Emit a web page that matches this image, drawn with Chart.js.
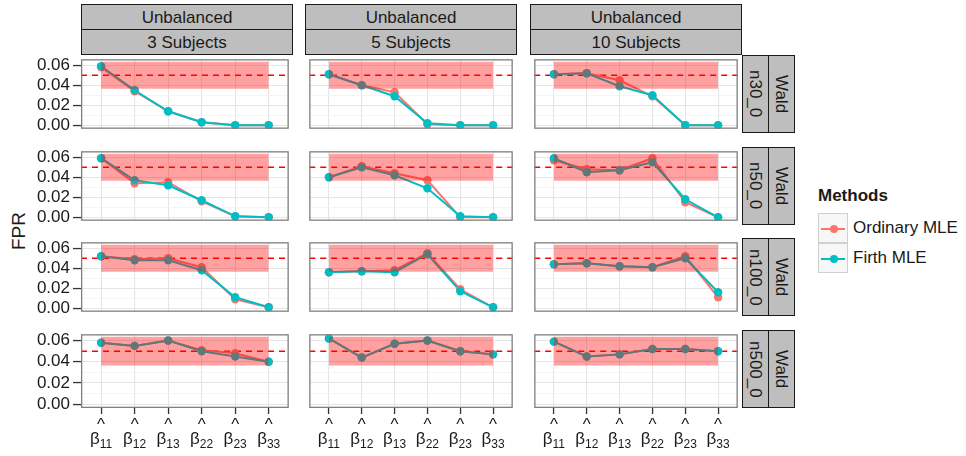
<!DOCTYPE html>
<html>
<head>
<meta charset="utf-8">
<script src="https://cdn.jsdelivr.net/npm/chart.js@4.4.1/dist/chart.umd.min.js"></script>
<style>
  html, body { margin: 0; padding: 0; background: #fff; }
  #fig { position: relative; width: 966px; height: 456px; overflow: hidden;
         font-family: "Liberation Sans", Arial, Helvetica, sans-serif; color: #1a1a1a; }
  #fig canvas { position: absolute; }
  .strip { position: absolute; box-sizing: border-box; background: #bebebe; border: 1px solid #1a1a1a;
           display: flex; align-items: center; justify-content: center; font-size: 17px; line-height: 1; }
  .strip.v span { writing-mode: vertical-rl; }
  #ytitle { position: absolute; left: 8px; top: 231px; transform: translate(0, -50%) rotate(180deg);
            writing-mode: vertical-rl; font-size: 19px; }
  #legend { position: absolute; left: 818px; top: 186px; }
  #legend .title { font-weight: bold; font-size: 17px; margin-bottom: 7px; }
  #legend .row { display: flex; align-items: center; height: 30px; }
  #legend .key { position: relative; width: 30px; height: 30px; box-sizing: border-box;
                 background: #f7f7f7; border: 1px solid #d0d0d0; }
  #legend .key .ln { position: absolute; left: 2px; right: 2px; top: 14px; height: 2px; }
  #legend .key .pt { position: absolute; left: 11px; top: 11px; width: 8px; height: 8px; border-radius: 50%; }
  #legend .lab { font-size: 17px; margin-left: 5px; }
</style>
</head>
<body>
<div id="fig">
  <div id="ytitle">FPR</div>
  <div id="legend"></div>
</div>
<script>
// Subscripts of the β̂ coefficients on the x axis
const categories = ['11', '12', '13', '22', '23', '33'];
const designLabel = 'Unbalanced';
const subjectLabels = ['3 Subjects', '5 Subjects', '10 Subjects'];
const sampleLabels = ['n30_0', 'n50_0', 'n100_0', 'n500_0'];
const testLabel = 'Wald';
const methodNames = ['Ordinary MLE', 'Firth MLE'];
const yTickValues = [0, 0.02, 0.04, 0.06];

// Nominal level and its Monte-Carlo acceptance band
const nominalLevel = 0.05;
const bandLow = 0.0365;
const bandHigh = 0.0635;

// False positive rates, one row per sample size, columns = 3 / 5 / 10 subjects
const ordinaryN30 = [
  [0.058, 0.034, 0.014, 0.003, 0.000, 0.000],
  [0.051, 0.040, 0.033, 0.001, 0.000, 0.000],
  [0.051, 0.052, 0.045, 0.029, 0.000, 0.000]
];
const firthN30 = [
  [0.059, 0.035, 0.014, 0.003, 0.000, 0.000],
  [0.051, 0.040, 0.029, 0.002, 0.000, 0.000],
  [0.051, 0.052, 0.039, 0.030, 0.000, 0.000]
];
const ordinaryN50 = [
  [0.059, 0.034, 0.035, 0.016, 0.001, 0.000],
  [0.040, 0.051, 0.044, 0.037, 0.000, 0.000],
  [0.057, 0.048, 0.047, 0.059, 0.015, 0.000]
];
const firthN50 = [
  [0.059, 0.037, 0.032, 0.017, 0.001, 0.000],
  [0.040, 0.050, 0.042, 0.029, 0.001, 0.000],
  [0.059, 0.045, 0.047, 0.055, 0.018, 0.000]
];
const ordinaryN100 = [
  [0.052, 0.049, 0.050, 0.041, 0.009, 0.001],
  [0.036, 0.037, 0.038, 0.055, 0.019, 0.001],
  [0.044, 0.045, 0.042, 0.041, 0.052, 0.011]
];
const firthN100 = [
  [0.052, 0.048, 0.048, 0.038, 0.011, 0.001],
  [0.036, 0.037, 0.036, 0.054, 0.017, 0.001],
  [0.044, 0.045, 0.042, 0.041, 0.050, 0.016]
];
const ordinaryN500 = [
  [0.058, 0.055, 0.060, 0.051, 0.048, 0.040],
  [0.062, 0.044, 0.057, 0.060, 0.050, 0.047],
  [0.059, 0.045, 0.047, 0.052, 0.052, 0.050]
];
const firthN500 = [
  [0.058, 0.055, 0.060, 0.050, 0.045, 0.040],
  [0.062, 0.044, 0.057, 0.060, 0.050, 0.047],
  [0.059, 0.045, 0.047, 0.052, 0.052, 0.050]
];

const ordinaryRows = [ordinaryN30, ordinaryN50, ordinaryN100, ordinaryN500];
const firthRows = [firthN30, firthN50, firthN100, firthN500];

// ---- layout of the facet grid ----
const PX = [81, 305, 530];
const PY = [55, 147, 238, 330];
const PW = 212, PH = 78;
const YAXIS_W = 81, XAXIS_H = 48;
const Y_MIN = -0.0035, Y_MAX = 0.066;
const X_MIN = -0.6, X_MAX = categories.length - 1 + 0.6;

const RED = '#F8766D', CYAN = '#00BFC4';
const POINT_R = 4.2, LINE_W = 2;
const FONT = '"Liberation Sans", Arial, Helvetica, sans-serif';

const fig = document.getElementById('fig');

const panelFrame = {
  id: 'panelFrame',
  afterDraw(chart) {
    const { ctx, chartArea: a } = chart;
    ctx.save();
    ctx.strokeStyle = '#7f7f7f';
    ctx.lineWidth = 1.3;
    ctx.strokeRect(a.left + 0.65, a.top + 0.65, a.right - a.left - 1.3, a.bottom - a.top - 1.3);
    ctx.restore();
  }
};

// β̂ with numeric subscript under each x tick
const betaLabels = {
  id: 'betaLabels',
  afterDraw(chart, args, opts) {
    if (!opts.show) return;
    const xs = chart.scales.x, ctx = chart.ctx;
    const base = chart.chartArea.bottom;
    ctx.save();
    ctx.fillStyle = '#1a1a1a';
    ctx.textBaseline = 'alphabetic';
    categories.forEach((sub, i) => {
      const cx = xs.getPixelForValue(i);
      ctx.font = '17px ' + FONT;
      const wb = ctx.measureText('β').width;
      ctx.font = '12px ' + FONT;
      const ws = ctx.measureText(sub).width;
      const x0 = cx - (wb + ws) / 2;
      ctx.textAlign = 'left';
      ctx.font = '17px ' + FONT;
      ctx.fillText('β', x0, base + 36);
      ctx.font = '12px ' + FONT;
      ctx.fillText(sub, x0 + wb, base + 40);
      ctx.textAlign = 'center';
      ctx.font = '17px ' + FONT;
      ctx.fillText('^', cx, base + 22);
    });
    ctx.restore();
  }
};

const isMajor = v => yTickValues.some(t => Math.abs(t - v) < 1e-9);

function makePanel(r, c) {
  const left = c === 0;
  const bottom = r === sampleLabels.length - 1;
  const cv = document.createElement('canvas');
  const w = PW + (left ? YAXIS_W : 0);
  const h = PH + (bottom ? XAXIS_H : 0);
  cv.width = w; cv.height = h;
  cv.style.left = (left ? PX[c] - YAXIS_W : PX[c]) + 'px';
  cv.style.top = PY[r] + 'px';
  cv.style.width = w + 'px'; cv.style.height = h + 'px';
  fig.appendChild(cv);

  const pts = vals => vals.map((v, i) => ({ x: i, y: v }));
  const red = ordinaryRows[r][c], cyan = firthRows[r][c];
  const last = categories.length - 1;

  // lower "order" is painted later: the translucent band sits over the traces
  new Chart(cv, {
    type: 'line',
    data: {
      datasets: [
        { label: 'band', data: [{ x: 0, y: bandHigh }, { x: last, y: bandHigh }],
          borderWidth: 0, pointRadius: 0, fill: { value: bandLow },
          backgroundColor: 'rgba(255,0,0,0.37)', order: 0 },
        { label: methodNames[1] + ' points', data: pts(cyan), showLine: false,
          pointRadius: POINT_R, pointBackgroundColor: CYAN, pointBorderWidth: 0, order: 1 },
        { label: methodNames[0] + ' points', data: pts(red), showLine: false,
          pointRadius: POINT_R, pointBackgroundColor: RED, pointBorderWidth: 0, order: 2 },
        { label: methodNames[1], data: pts(cyan), borderColor: CYAN, borderWidth: LINE_W,
          pointRadius: 0, tension: 0, order: 3 },
        { label: methodNames[0], data: pts(red), borderColor: RED, borderWidth: LINE_W,
          pointRadius: 0, tension: 0, order: 4 },
        { label: 'nominal', data: [{ x: X_MIN, y: nominalLevel }, { x: X_MAX, y: nominalLevel }],
          borderColor: '#ff0000', borderWidth: 1.6, borderDash: [6, 5], pointRadius: 0, order: 5 }
      ]
    },
    options: {
      responsive: false,
      animation: false,
      devicePixelRatio: 1,
      layout: { padding: 0 },
      plugins: { legend: { display: false }, tooltip: { enabled: false },
                 betaLabels: { show: bottom } },
      scales: {
        x: {
          type: 'linear', min: X_MIN, max: X_MAX,
          border: { display: false },
          ticks: { display: false, stepSize: 1, includeBounds: false },
          grid: { color: '#e5e5e5', lineWidth: 1.1, drawTicks: bottom, tickLength: 6,
                  tickColor: '#333', tickWidth: 1.3 },
          afterFit: s => {
            s.height = bottom ? XAXIS_H : 0;
            s.paddingLeft = 0; s.paddingRight = 0; s.paddingTop = 0; s.paddingBottom = 0;
          }
        },
        y: {
          type: 'linear', min: Y_MIN, max: Y_MAX,
          border: { display: false },
          ticks: {
            display: left, stepSize: 0.01, includeBounds: false, padding: 3, autoSkip: false,
            color: '#1a1a1a', font: { family: FONT, size: 17 },
            callback: v => isMajor(v) ? v.toFixed(2) : ''
          },
          grid: {
            color: ctx => isMajor(ctx.tick.value) ? '#e5e5e5' : '#f3f3f3',
            lineWidth: ctx => isMajor(ctx.tick.value) ? 1.1 : 0.8,
            drawTicks: left, tickLength: 8,
            tickColor: ctx => isMajor(ctx.tick.value) ? '#333' : 'rgba(0,0,0,0)',
            tickWidth: 1.3
          },
          afterFit: s => {
            s.width = left ? YAXIS_W : 0;
            s.paddingLeft = 0; s.paddingRight = 0; s.paddingTop = 0; s.paddingBottom = 0;
          }
        }
      }
    },
    plugins: [panelFrame, betaLabels]
  });
}

function strip(text, x, y, w, h, vertical) {
  const d = document.createElement('div');
  d.className = 'strip' + (vertical ? ' v' : '');
  d.style.left = x + 'px'; d.style.top = y + 'px';
  d.style.width = w + 'px'; d.style.height = h + 'px';
  const s = document.createElement('span');
  s.textContent = text;
  d.appendChild(s);
  fig.appendChild(d);
}

subjectLabels.forEach((lab, c) => {
  strip(designLabel, PX[c], 4, PW, 26, false);
  strip(lab, PX[c], 29, PW, 26, false);
});
sampleLabels.forEach((lab, r) => {
  strip(lab, PX[2] + PW, PY[r], 27, PH, true);
  strip(testLabel, PX[2] + PW + 26, PY[r], 27, PH, true);
  subjectLabels.forEach((_, c) => makePanel(r, c));
});

// legend
const lg = document.getElementById('legend');
lg.innerHTML = '<div class="title">Methods</div>' + methodNames.map((m, i) => {
  const col = i === 0 ? RED : CYAN;
  return '<div class="row"><div class="key"><div class="ln" style="background:' + col +
         '"></div><div class="pt" style="background:' + col + '"></div></div><div class="lab">' +
         m + '</div></div>';
}).join('');
</script>
</body>
</html>
